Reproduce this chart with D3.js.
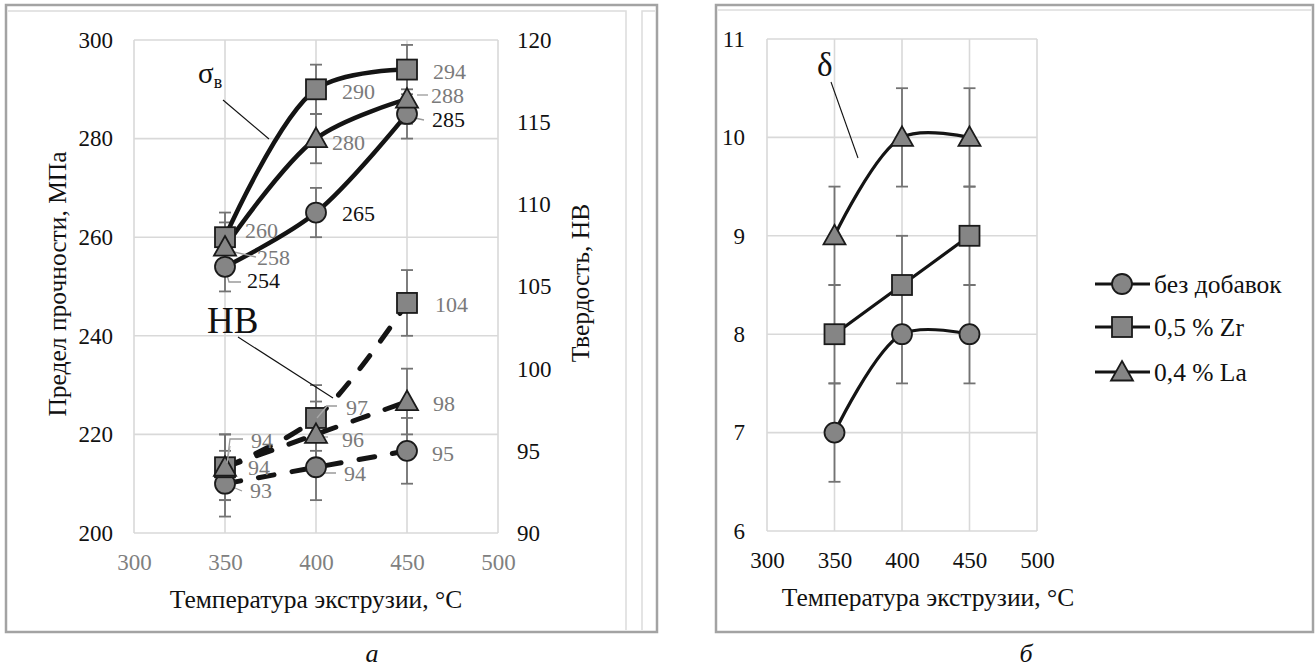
<!DOCTYPE html>
<html>
<head>
<meta charset="utf-8">
<script src="https://cdn.jsdelivr.net/npm/d3@7"></script>
<style>
  html, body { margin: 0; padding: 0; background: #fff; }
  svg text { font-family: "Liberation Serif", "Times New Roman", "DejaVu Serif", serif; }
</style>
</head>
<body>
<svg id="fig" width="1316" height="668"></svg>
<script>
// ---- data ----
const temps = [350, 400, 450];
const seriesNames = ["без добавок", "0,5 % Zr", "0,4 % La"];
const seriesShapes = ["circle", "square", "triangle"];

// ultimate tensile strength, MPa
const utsNone = [254, 265, 285];
const utsZr   = [260, 290, 294];
const utsLa   = [258, 280, 288];
const utsErr  = 5;

// Brinell hardness, HB
const hbNone = [93, 94, 95];
const hbZr   = [94, 97, 104];
const hbLa   = [94, 96, 98];
const hbErr  = 2;

// elongation, %
const elNone = [7, 8, 8];
const elZr   = [8, 8.5, 9];
const elLa   = [9, 10, 10];
const elErr  = 0.5;

const xTicks   = [300, 350, 400, 450, 500];
const utsTicks = [200, 220, 240, 260, 280, 300];
const hbTicks  = [90, 95, 100, 105, 110, 115, 120];
const elTicks  = [6, 7, 8, 9, 10, 11];

// ---- label placement (offsets from marker centre, px) ----
const utsLabelOffsets = [
  [[22, 14], [26, 1], [25, 5]],
  [[20, -7], [26, 2], [26, 2]],
  [[32, 10], [16, 4], [24, -4]]
];
const hbLabelOffsets = [
  [[25, 7], [28, 6], [25, 2]],
  [[26, -27], [30, -11], [28, 1]],
  [[23, 0], [26, 5], [26, 2]]
];

// ---- styles ----
const SERIF = "'Liberation Serif', 'Times New Roman', 'DejaVu Serif', serif";
const FONT = 23;        // tick labels
const TITLE = 25.5;     // axis titles and legend
const markerFill = "#858585";
const markerStroke = "#1a1a1a";
const lineColor = "#141414";
const errColor = "#737373";
const gridColor = "#d9d9d9";
const labelGray = "#7a7a7a";

const svg = d3.select("#fig").attr("font-family", SERIF);

// ---- frames ----
function frame(x, y, w, h) {
  svg.append("rect").attr("x", x).attr("y", y).attr("width", w).attr("height", h)
    .attr("fill", "none").attr("stroke", "#a3a3a3").attr("stroke-width", 2.5);
}
frame(6, 5, 651, 627);
frame(716, 5, 597, 627);
// inner chart-area outlines
const inner = svg.append("g").attr("stroke", "#dcdcdc").attr("stroke-width", 1.5).attr("fill", "none");
inner.append("path").attr("d", "M8,11H626V630M642,630V11H655");
inner.append("path").attr("d", "M718,10H1311");

// ---- marker drawing ----
function marker(g, shape, x, y) {
  let el;
  if (shape === "circle") {
    el = g.append("circle").attr("cx", x).attr("cy", y).attr("r", 10);
  } else if (shape === "square") {
    el = g.append("rect").attr("x", x - 10).attr("y", y - 10).attr("width", 20).attr("height", 20);
  } else {
    el = g.append("path").attr("d", `M${x},${y - 11}L${x + 11},${y + 8.5}L${x - 11},${y + 8.5}Z`);
  }
  el.attr("fill", markerFill).attr("stroke", markerStroke).attr("stroke-width", 1.8);
}

function errorBars(g, x, yScale, values, err) {
  values.forEach((v, i) => {
    const cx = x(temps[i]), y1 = yScale(v - err), y2 = yScale(v + err);
    g.append("line").attr("x1", cx).attr("x2", cx).attr("y1", y1).attr("y2", y2);
    g.append("line").attr("x1", cx - 6).attr("x2", cx + 6).attr("y1", y1).attr("y2", y1);
    g.append("line").attr("x1", cx - 6).attr("x2", cx + 6).attr("y1", y2).attr("y2", y2);
  });
}

function grid(g, x, y, xt, yt) {
  const [x0, x1] = x.range(), [y0, y1] = y.range();
  g.selectAll(".gx").data(xt).join("line")
    .attr("x1", d => x(d)).attr("x2", d => x(d)).attr("y1", y0).attr("y2", y1);
  g.selectAll(".gy").data(yt).join("line")
    .attr("y1", d => y(d)).attr("y2", d => y(d)).attr("x1", x0).attr("x2", x1);
  g.attr("stroke", gridColor).attr("stroke-width", 1.6);
}

function tickLabels(axisGen, translate, color, isX) {
  const g = svg.append("g").attr("transform", translate).call(axisGen);
  g.attr("font-family", SERIF).attr("font-size", FONT);
  g.select(".domain").remove();
  g.selectAll(".tick line").remove();
  g.selectAll(".tick text").attr("font-family", SERIF).attr("font-size", FONT).attr("fill", color);
  if (isX) g.selectAll(".tick text").attr("dy", "0.35em").attr("y", 0);
  return g;
}

function text(x, y, str, size, color) {
  return svg.append("text").attr("x", x).attr("y", y).attr("font-family", SERIF)
    .attr("font-size", size).attr("fill", color || "#111").text(str);
}

const smooth = d3.curveCatmullRom.alpha(0.5);
const intFmt = d3.format("d");

// =========================== panel (а) ===========================
const xA = d3.scaleLinear().domain([300, 500]).range([134, 498]);
const yUts = d3.scaleLinear().domain([200, 300]).range([533, 40]);
const yHb = d3.scaleLinear().domain([90, 120]).range([533, 40]);

grid(svg.append("g"), xA, yUts, xTicks, utsTicks);

tickLabels(d3.axisBottom(xA).tickValues(xTicks).tickFormat(intFmt).tickSize(0).tickPadding(0),
  "translate(0,562)", "#808080", true);
tickLabels(d3.axisLeft(yUts).tickValues(utsTicks).tickFormat(intFmt).tickSize(0).tickPadding(0),
  "translate(113,0)", "#111");
tickLabels(d3.axisRight(yHb).tickValues(hbTicks).tickFormat(intFmt).tickSize(0).tickPadding(0),
  "translate(517,0)", "#111");

text(316, 599, "Температура экструзии, °С", TITLE).attr("dy", "0.35em").attr("text-anchor", "middle");
text(0, 0, "Предел прочности, МПа", TITLE).attr("transform", "translate(57,284) rotate(-90)")
  .attr("dy", "0.35em").attr("text-anchor", "middle");
text(0, 0, "Твердость, НВ", TITLE).attr("transform", "translate(580,283) rotate(-90)")
  .attr("dy", "0.35em").attr("text-anchor", "middle");

const utsSeries = [utsNone, utsZr, utsLa];
const hbSeries = [hbNone, hbZr, hbLa];

const errA = svg.append("g").attr("stroke", errColor).attr("stroke-width", 1.8);
utsSeries.forEach(s => errorBars(errA, xA, yUts, s, utsErr));
hbSeries.forEach(s => errorBars(errA, xA, yHb, s, hbErr));

const utsLine = d3.line().x((d, i) => xA(temps[i])).y(d => yUts(d)).curve(smooth);
const hbLine = d3.line().x((d, i) => xA(temps[i])).y(d => yHb(d)).curve(smooth);

const linesA = svg.append("g").attr("fill", "none").attr("stroke", lineColor).attr("stroke-linecap", "round");
utsSeries.forEach(s => linesA.append("path").attr("d", utsLine(s)).attr("stroke-width", 4.5));
hbSeries.forEach(s => linesA.append("path").attr("d", hbLine(s)).attr("stroke-width", 5)
  .attr("stroke-dasharray", "16 18"));

// data-label leader lines
const leaders = svg.append("g").attr("stroke", "#9a9a9a").attr("stroke-width", 1.3).attr("fill", "none");
[
  "M417,95H428", "M410,117L424,120", "M226,230H236", "M234,252L256,257", "M227,275L229,282H241",
  "M227,463L230,439H243", "M228,485L242,491", "M317,418L327,406H337", "M317,437H328", "M317,470L325,473H336"
].forEach(d => leaders.append("path").attr("d", d));

const markA = svg.append("g");
utsSeries.forEach((s, k) => s.forEach((v, i) => marker(markA, seriesShapes[k], xA(temps[i]), yUts(v))));
hbSeries.forEach((s, k) => s.forEach((v, i) => marker(markA, seriesShapes[k], xA(temps[i]), yHb(v))));

// leader lines drawn over the markers
const leadersTop = svg.append("g").attr("stroke", "#a8a8a8").attr("stroke-width", 1.3).attr("fill", "none");
leadersTop.append("path").attr("d", "M317,418L327,406");
leadersTop.append("path").attr("d", "M227,463L230,446");

// value labels
utsSeries.forEach((s, k) => s.forEach((v, i) => {
  const [dx, dy] = utsLabelOffsets[k][i];
  text(xA(temps[i]) + dx, yUts(v) + dy, v, 22, k === 0 ? "#111" : labelGray).attr("dy", "0.35em");
}));
hbSeries.forEach((s, k) => s.forEach((v, i) => {
  const [dx, dy] = hbLabelOffsets[k][i];
  text(xA(temps[i]) + dx, yHb(v) + dy, v, 22, labelGray).attr("dy", "0.35em");
}));

// curve-group captions
const sigma = text(198, 83, "", 29);
sigma.append("tspan").attr("font-size", 29).text("σ");
sigma.append("tspan").attr("font-size", 18).attr("dy", 5).text("в");
svg.append("line").attr("x1", 223).attr("y1", 100).attr("x2", 269).attr("y2", 139)
  .attr("stroke", "#111").attr("stroke-width", 1.1);
text(207, 333, "НВ", 37);
svg.append("line").attr("x1", 238).attr("y1", 337).attr("x2", 333).attr("y2", 398)
  .attr("stroke", "#111").attr("stroke-width", 1.1);

text(372, 653, "а", 26).attr("dy", "0.35em").attr("text-anchor", "middle").attr("font-style", "italic");

// =========================== panel (б) ===========================
const xB = d3.scaleLinear().domain([300, 500]).range([767, 1037]);
const yEl = d3.scaleLinear().domain([6, 11]).range([531, 39]);

grid(svg.append("g"), xB, yEl, xTicks, elTicks);

tickLabels(d3.axisBottom(xB).tickValues(xTicks).tickFormat(intFmt).tickSize(0).tickPadding(0),
  "translate(0,560)", "#111", true);
tickLabels(d3.axisLeft(yEl).tickValues(elTicks).tickFormat(intFmt).tickSize(0).tickPadding(0),
  "translate(745,0)", "#111");

text(928, 597, "Температура экструзии, °С", TITLE).attr("dy", "0.35em").attr("text-anchor", "middle");

const elSeries = [elNone, elZr, elLa];
const errB = svg.append("g").attr("stroke", errColor).attr("stroke-width", 1.8);
elSeries.forEach(s => errorBars(errB, xB, yEl, s, elErr));

const elLine = d3.line().x((d, i) => xB(temps[i])).y(d => yEl(d)).curve(smooth);
const linesB = svg.append("g").attr("fill", "none").attr("stroke", lineColor).attr("stroke-width", 3.2);
elSeries.forEach(s => linesB.append("path").attr("d", elLine(s)));

const markB = svg.append("g");
elSeries.forEach((s, k) => s.forEach((v, i) => marker(markB, seriesShapes[k], xB(temps[i]), yEl(v))));

text(817, 76, "δ", 33);
svg.append("line").attr("x1", 831).attr("y1", 82).attr("x2", 858).attr("y2", 158)
  .attr("stroke", "#111").attr("stroke-width", 1.1);

// legend
const legendY = [284, 327, 372];
const leg = svg.append("g");
seriesNames.forEach((name, k) => {
  const y = legendY[k];
  leg.append("line").attr("x1", 1095).attr("x2", 1150).attr("y1", y).attr("y2", y)
    .attr("stroke", lineColor).attr("stroke-width", 3.2);
  marker(leg, seriesShapes[k], 1122, y);
  text(1154, y, name, TITLE).attr("dy", "0.35em");
});

text(1026, 653, "б", 26).attr("dy", "0.35em").attr("text-anchor", "middle").attr("font-style", "italic");
</script>
</body>
</html>
